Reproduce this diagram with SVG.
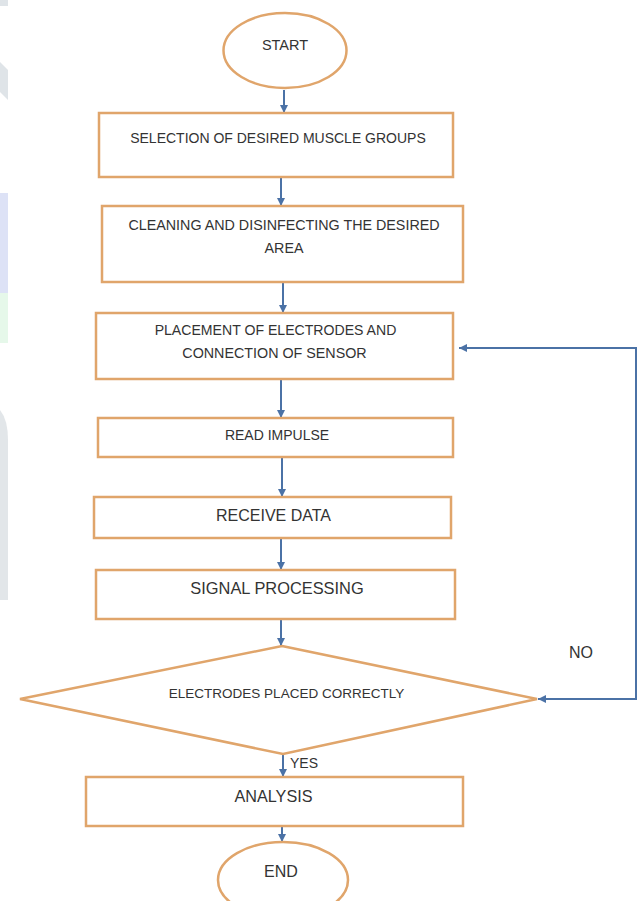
<svg xmlns="http://www.w3.org/2000/svg" width="641" height="901" viewBox="0 0 641 901">
  <style>
    .box { fill: #ffffff; stroke: #e0a56b; stroke-width: 2.5; }
    .lbl { font-family: "Liberation Sans", Arial, sans-serif; fill: #333333; text-anchor: middle; }
    .con { fill: none; stroke: #4b72a6; stroke-width: 2; }
    .wm { stroke: none; }
  </style>
  <defs>
    <marker id="ah" viewBox="0 0 8 8" markerWidth="8" markerHeight="8" refX="8" refY="4" orient="auto-start-reverse" markerUnits="userSpaceOnUse">
      <path d="M0,0 L8,4 L0,8 z" fill="#4b72a6"/>
    </marker>
  </defs>
  <rect width="641" height="901" fill="#ffffff"/>

  <!-- faint watermark remnants at the left edge -->
  <g id="watermark">
    <rect class="wm" x="0" y="0" width="8" height="6" fill="#dfe4e8"/>
    <path class="wm" d="M0,62 L8,70 L8,100 L0,92 z" fill="#dfe4e8"/>
    <rect class="wm" x="0" y="193" width="8" height="100" fill="#dde2f6"/>
    <rect class="wm" x="0" y="293" width="8" height="50" fill="#e6f8ea"/>
    <path class="wm" d="M0,410 Q8,420 8,440 L8,600 L0,600 z" fill="#e2e6e9"/>
  </g>

  <g id="connectors">
    <line class="con" x1="284" y1="90" x2="284" y2="113" marker-end="url(#ah)"/>
    <line class="con" x1="281" y1="177" x2="281" y2="206" marker-end="url(#ah)"/>
    <line class="con" x1="283" y1="282" x2="283" y2="313" marker-end="url(#ah)"/>
    <line class="con" x1="281" y1="379" x2="281" y2="418" marker-end="url(#ah)"/>
    <line class="con" x1="282" y1="457" x2="282" y2="497" marker-end="url(#ah)"/>
    <line class="con" x1="281" y1="538" x2="281" y2="570" marker-end="url(#ah)"/>
    <line class="con" x1="281" y1="619" x2="281" y2="646" marker-end="url(#ah)"/>
    <line class="con" x1="283" y1="754" x2="283" y2="777" marker-end="url(#ah)"/>
    <line class="con" x1="282" y1="826" x2="282" y2="842" marker-end="url(#ah)"/>
    <path class="con" d="M538,699 L636,699 L636,348 L459,348" marker-start="url(#ah)" marker-end="url(#ah)"/>
    <text class="lbl" x="581" y="658" font-size="16">NO</text>
    <text class="lbl" x="290" y="768" font-size="14" text-anchor="start" style="text-anchor:start">YES</text>
  </g>

  <g id="start">
    <ellipse class="box" cx="285" cy="50.5" rx="61.5" ry="37.5"/>
    <text class="lbl" x="285" y="50" font-size="14.5">START</text>
  </g>

  <g id="selection">
    <rect class="box" x="99" y="113" width="354" height="64"/>
    <text class="lbl" x="278" y="143" font-size="14">SELECTION OF DESIRED MUSCLE GROUPS</text>
  </g>

  <g id="cleaning">
    <rect class="box" x="102" y="206" width="361" height="76"/>
    <text class="lbl" x="284" y="230" font-size="14.3">CLEANING AND DISINFECTING THE DESIRED</text>
    <text class="lbl" x="284" y="253" font-size="14.3">AREA</text>
  </g>

  <g id="placement">
    <rect class="box" x="96" y="313" width="357" height="66"/>
    <text class="lbl" x="275.5" y="335" font-size="14.1">PLACEMENT OF ELECTRODES AND</text>
    <text class="lbl" x="274.5" y="358" font-size="14.3">CONNECTION OF SENSOR</text>
  </g>

  <g id="read-impulse">
    <rect class="box" x="98" y="418" width="355" height="39"/>
    <text class="lbl" x="277" y="440" font-size="14">READ IMPULSE</text>
  </g>

  <g id="receive-data">
    <rect class="box" x="94" y="497" width="357" height="41"/>
    <text class="lbl" x="273.5" y="521" font-size="16">RECEIVE DATA</text>
  </g>

  <g id="signal-processing">
    <rect class="box" x="96" y="570" width="359" height="49"/>
    <text class="lbl" x="277" y="594" font-size="16.4">SIGNAL PROCESSING</text>
  </g>

  <g id="decision">
    <polygon class="box" points="282,646 537,699 283,754 20,699"/>
    <text class="lbl" x="286.5" y="698" font-size="13.5">ELECTRODES PLACED CORRECTLY</text>
  </g>

  <g id="analysis">
    <rect class="box" x="86" y="777" width="377" height="49"/>
    <text class="lbl" x="273.5" y="802" font-size="16.2">ANALYSIS</text>
  </g>

  <g id="end">
    <ellipse class="box" cx="283" cy="880" rx="65" ry="38"/>
    <text class="lbl" x="281" y="876.5" font-size="16">END</text>
  </g>
</svg>
